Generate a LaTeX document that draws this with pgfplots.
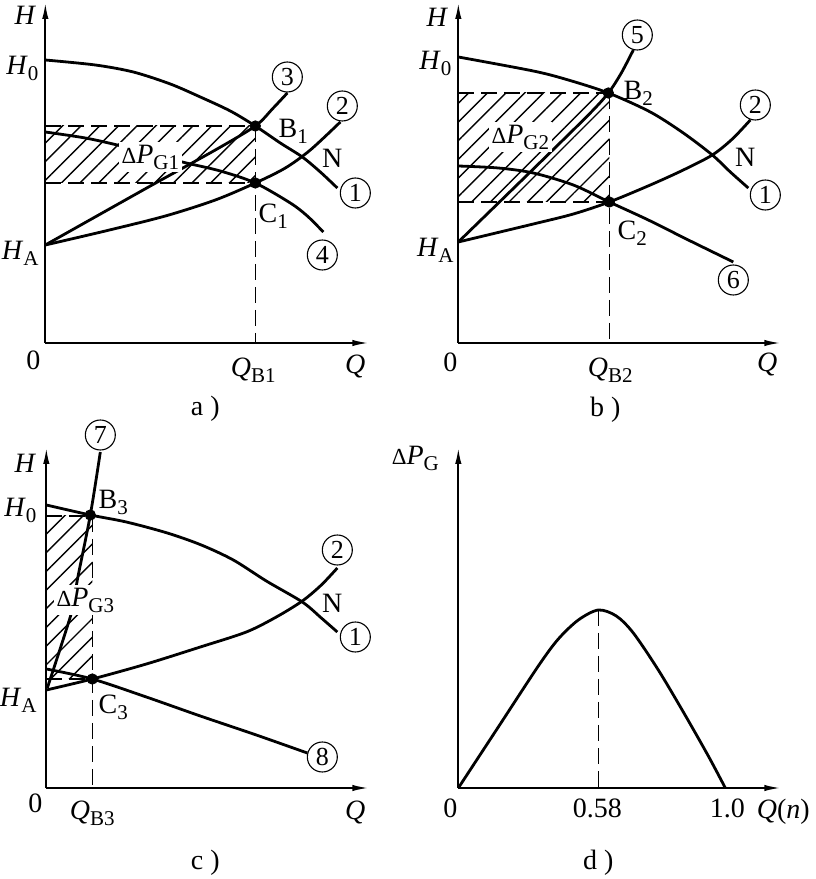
\documentclass[border=0pt]{standalone}
\usepackage{fontspec}
\setmainfont{Liberation Serif}
\usepackage{pgfplots}
\pgfplotsset{compat=1.18}
\usetikzlibrary{arrows.meta,patterns.meta}
\pgfplotsset{
  panel/.style={scale only axis, x=0.5pt, y=0.5pt, xmin=0, ymin=0, xmax=322, ymax=340,
    axis lines=left, axis line style={line width=0.9pt, -{Latex[length=8pt,width=3.2pt]}},
    xtick=\empty, ytick=\empty, clip=false, anchor=south west},
  crv/.style={line width=1.4pt, smooth, no marks, black},
  dsh/.style={line width=0.8pt, dash pattern=on 8pt off 3.5pt, no marks, black},
  hatch/.style={draw=none, pattern={Lines[angle=45,distance=6.6pt,line width=0.7pt]}},
  dot/.style={only marks, mark=*, mark size=2.6pt, black},
}
\tikzset{lab/.style={font=\fontsize{14}{14}\selectfont, inner sep=0pt},
  cnum/.style={circle, draw, line width=0.55pt, inner sep=0pt, minimum size=15pt, font=\fontsize{13}{13}\selectfont},
  dp/.style={lab, fill=white, inner sep=1.5pt}}
\newcommand{\sub}[1]{\raisebox{-3pt}{\fontsize{10.5}{10.5}\selectfont #1}}
\newcommand{\dlt}{{\fontsize{11.5}{11.5}\selectfont Δ}}
\begin{document}
\begin{tikzpicture}
\path (0,0) rectangle (407.5pt,439.5pt);
% ---------------- panel a
\begin{axis}[panel, at={(22.5pt,268pt)}, xmax=323]
\addplot[hatch] coordinates {(0,160) (210,160) (210,217) (0,217)} -- cycle;
\addplot[dsh] coordinates {(0,217) (210,217)};
\addplot[dsh] coordinates {(0,160) (210,160)};
\addplot[dsh] coordinates {(210,217) (210,0)};
\addplot[crv] coordinates {(0,283) (50,278) (88,271) (125,259) (155,246) (185,232) (210,217) (235,200) (257,186) (275,171) (292,155)};
\addplot[crv] coordinates {(0,98) (60,112) (120,127) (170,143) (210,160) (240,175) (265,193) (295,221)};
\addplot[crv] coordinates {(0,98) (105,157) (170,193) (210,217) (227,234) (242,250)};
\addplot[crv] coordinates {(0,211) (40,205) (72,198) (105,190) (137,181) (175,172) (210,160) (245,140) (262,127) (278,111)};
\addplot[dot] coordinates {(210,217) (210,160)};
\node[dp] at (105,186) {\dlt\textit{P}\sub{G1}};
\node[lab] at (-20,328) {\textit{H}};
\node[lab] at (-23,275) {\textit{H}\sub{0}};
\node[lab] at (-25,90) {\textit{H}\sub{A}};
\node[lab] at (-12,-17) {0};
\node[lab] at (208,-27) {\textit{Q}\sub{B1}};
\node[lab] at (310,-24) {\textit{Q}};
\node[lab] at (160,-66) {a )};
\node[cnum] at (242,266) {3};
\node[cnum] at (297,237) {2};
\node[cnum] at (310,150) {1};
\node[cnum] at (277,88) {4};
\node[lab] at (248,212) {B\sub{1}};
\node[lab] at (287,185) {N};
\node[lab] at (228,127) {C\sub{1}};
\end{axis}
% ---------------- panel b
\begin{axis}[panel, at={(229pt,268pt)}]
\addplot[hatch] coordinates {(0,141) (151,141) (151,250) (0,250)} -- cycle;
\addplot[dsh] coordinates {(0,250) (151,250)};
\addplot[dsh] coordinates {(0,141) (151,141)};
\addplot[dsh] coordinates {(151,250) (151,0)};
\addplot[crv] coordinates {(0,286) (75,272) (110,263) (150,250) (192,231) (225,210) (254,188) (272,171) (290,155)};
\addplot[crv] coordinates {(0,101) (75,119) (115,129) (151,141) (192,158) (225,173) (254,188) (274,204) (292,223)};
\addplot[crv] coordinates {(0,101) (75,174) (130,228) (150,250) (163,270) (175,293)};
\addplot[crv] coordinates {(0,177) (40,175) (75,170) (115,158) (151,141) (190,123) (230,103) (275,81)};
\addplot[dot] coordinates {(150,250) (151,141)};
\node[dp] at (62,206) {\dlt\textit{P}\sub{G2}};
\node[lab] at (-21,326) {\textit{H}};
\node[lab] at (-23,280) {\textit{H}\sub{0}};
\node[lab] at (-23,93) {\textit{H}\sub{A}};
\node[lab] at (-8,-19) {0};
\node[lab] at (152,-27) {\textit{Q}\sub{B2}};
\node[lab] at (309,-22) {\textit{Q}};
\node[lab] at (147,-67) {b )};
\node[cnum] at (179,308) {5};
\node[cnum] at (297,238) {2};
\node[cnum] at (307,148) {1};
\node[cnum] at (275,63) {6};
\node[lab] at (180,250) {B\sub{2}};
\node[lab] at (287,186) {N};
\node[lab] at (174,110) {C\sub{2}};
\end{axis}
% ---------------- panel c
\begin{axis}[panel, at={(23pt,45.5pt)}]
\addplot[hatch] coordinates {(0,109) (46,109) (46,272) (0,272)} -- cycle;
\addplot[dsh] coordinates {(0,272) (46,272)};
\addplot[dsh] coordinates {(0,109) (46,109)};
\addplot[dsh] coordinates {(46,272) (46,0)};
\addplot[crv] coordinates {(0,283) (44,273) (80,266) (121,255) (155,243) (187,228) (220,207) (256,186) (275,170) (291,156)};
\addplot[crv] coordinates {(0,98) (46,109) (100,124) (154,141) (200,156) (230,171) (256,187) (275,203) (291,220)};
\addplot[crv] coordinates {(1,100) (26,178) (31,208) (44,273) (54,336)};
\addplot[crv] coordinates {(0,119) (46,109) (100,91) (154,72) (210,53) (261,35)};
\addplot[dot] coordinates {(44,273) (46,109)};
\node[dp] at (39,188) {\dlt\textit{P}\sub{G3}};
\node[lab] at (-21,325) {\textit{H}};
\node[lab] at (-26,278) {\textit{H}\sub{0}};
\node[lab] at (-28,88) {\textit{H}\sub{A}};
\node[lab] at (-11,-15) {0};
\node[lab] at (46,-25) {\textit{Q}\sub{B3}};
\node[lab] at (309,-25) {\textit{Q}};
\node[lab] at (159,-75) {c )};
\node[cnum] at (54,353) {7};
\node[cnum] at (291,238) {2};
\node[cnum] at (309,151) {1};
\node[cnum] at (276,31) {8};
\node[lab] at (67,286) {B\sub{3}};
\node[lab] at (286,185) {N};
\node[lab] at (67,81) {C\sub{3}};
\end{axis}
% ---------------- panel d
\begin{axis}[panel, at={(229pt,45.5pt)}]
\addplot[dsh] coordinates {(140,178) (140,0)};
\addplot[crv] coordinates {(0,0) (40,61) (80,122) (100,149) (120,168) (140,178) (158,172) (175,155) (200,118) (225,76) (250,32) (267,0)};
\node[lab] at (-43,330) {\dlt\textit{P}\sub{G}};
\node[lab] at (-8,-20) {0};
\node[lab] at (139,-20) {0.58};
\node[lab] at (269,-20) {1.0};
\node[lab] at (325,-24) {\textit{Q}(\textit{n})};
\node[lab] at (140,-75) {d )};
\end{axis}
\end{tikzpicture}
\end{document}
